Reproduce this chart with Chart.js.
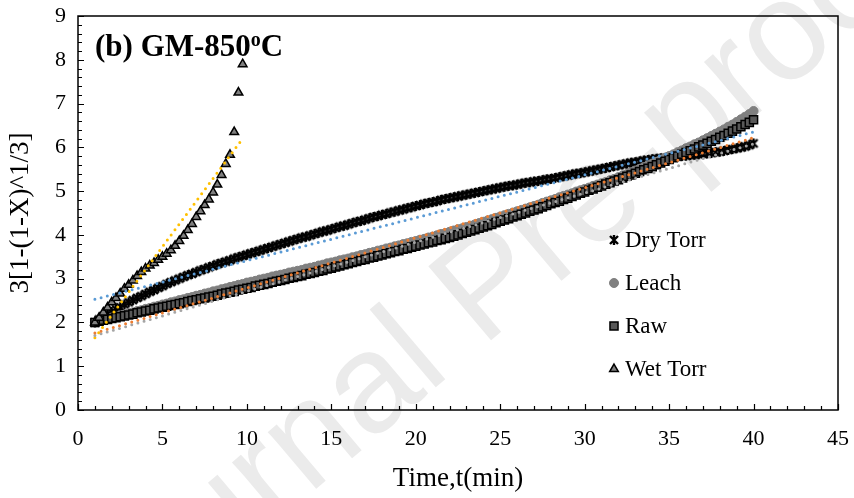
<!DOCTYPE html>
<html>
<head>
<meta charset="utf-8">
<title>GM-850 shrinking core</title>
<script src="https://cdn.jsdelivr.net/npm/chart.js@4.4.0/dist/chart.umd.min.js"></script>
<style>
  html, body { margin: 0; padding: 0; background: #fff; }
  #wrap { width: 854px; height: 498px; }
</style>
</head>
<body>
<div id="wrap"><canvas id="chart"></canvas></div>
<script>
// Sampling times (min), one reading every 15 s
const timeMin = [
  1, 1.25, 1.5, 1.75, 2, 2.25, 2.5, 2.75, 3, 3.25, 3.5, 3.75,
  4, 4.25, 4.5, 4.75, 5, 5.25, 5.5, 5.75, 6, 6.25, 6.5, 6.75,
  7, 7.25, 7.5, 7.75, 8, 8.25, 8.5, 8.75, 9, 9.25, 9.5, 9.75,
  10, 10.25, 10.5, 10.75, 11, 11.25, 11.5, 11.75, 12, 12.25, 12.5, 12.75,
  13, 13.25, 13.5, 13.75, 14, 14.25, 14.5, 14.75, 15, 15.25, 15.5, 15.75,
  16, 16.25, 16.5, 16.75, 17, 17.25, 17.5, 17.75, 18, 18.25, 18.5, 18.75,
  19, 19.25, 19.5, 19.75, 20, 20.25, 20.5, 20.75, 21, 21.25, 21.5, 21.75,
  22, 22.25, 22.5, 22.75, 23, 23.25, 23.5, 23.75, 24, 24.25, 24.5, 24.75,
  25, 25.25, 25.5, 25.75, 26, 26.25, 26.5, 26.75, 27, 27.25, 27.5, 27.75,
  28, 28.25, 28.5, 28.75, 29, 29.25, 29.5, 29.75, 30, 30.25, 30.5, 30.75,
  31, 31.25, 31.5, 31.75, 32, 32.25, 32.5, 32.75, 33, 33.25, 33.5, 33.75,
  34, 34.25, 34.5, 34.75, 35, 35.25, 35.5, 35.75, 36, 36.25, 36.5, 36.75,
  37, 37.25, 37.5, 37.75, 38, 38.25, 38.5, 38.75, 39, 39.25, 39.5, 39.75,
  40
];

// 3[1-(1-X)^1/3] for each sample
const dryTorr = [
  2.00, 2.07, 2.13, 2.19, 2.24, 2.30, 2.35, 2.41, 2.46, 2.51, 2.56, 2.60,
  2.65, 2.70, 2.74, 2.79, 2.83, 2.88, 2.92, 2.96, 3.00, 3.04, 3.08, 3.11,
  3.15, 3.19, 3.22, 3.26, 3.29, 3.33, 3.36, 3.39, 3.42, 3.46, 3.49, 3.52,
  3.55, 3.58, 3.61, 3.64, 3.67, 3.70, 3.73, 3.76, 3.79, 3.82, 3.85, 3.88,
  3.91, 3.94, 3.96, 3.99, 4.02, 4.05, 4.08, 4.10, 4.13, 4.16, 4.19, 4.21,
  4.24, 4.27, 4.30, 4.32, 4.35, 4.38, 4.41, 4.43, 4.46, 4.48, 4.51, 4.53,
  4.56, 4.58, 4.61, 4.63, 4.66, 4.68, 4.71, 4.73, 4.75, 4.77, 4.80, 4.82,
  4.84, 4.86, 4.88, 4.90, 4.92, 4.94, 4.96, 4.98, 5.00, 5.02, 5.04, 5.06,
  5.08, 5.10, 5.12, 5.13, 5.15, 5.17, 5.19, 5.20, 5.22, 5.23, 5.25, 5.27,
  5.28, 5.30, 5.32, 5.34, 5.36, 5.38, 5.40, 5.41, 5.43, 5.45, 5.47, 5.49,
  5.51, 5.53, 5.55, 5.57, 5.59, 5.61, 5.63, 5.65, 5.66, 5.68, 5.70, 5.71,
  5.73, 5.74, 5.75, 5.76, 5.77, 5.78, 5.79, 5.80, 5.81, 5.82, 5.83, 5.84,
  5.85, 5.86, 5.87, 5.89, 5.90, 5.92, 5.94, 5.96, 5.98, 6.00, 6.02, 6.05,
  6.09
];

const leach = [
  2.00, 2.03, 2.06, 2.08, 2.11, 2.13, 2.16, 2.18, 2.21, 2.23, 2.26, 2.28,
  2.31, 2.33, 2.36, 2.38, 2.41, 2.43, 2.46, 2.48, 2.51, 2.53, 2.56, 2.58,
  2.61, 2.63, 2.66, 2.68, 2.71, 2.73, 2.76, 2.78, 2.81, 2.83, 2.86, 2.88,
  2.91, 2.93, 2.95, 2.98, 3.00, 3.02, 3.05, 3.07, 3.09, 3.11, 3.14, 3.16,
  3.18, 3.20, 3.23, 3.25, 3.27, 3.30, 3.32, 3.35, 3.37, 3.39, 3.42, 3.44,
  3.46, 3.49, 3.51, 3.54, 3.56, 3.59, 3.61, 3.64, 3.66, 3.69, 3.71, 3.74,
  3.76, 3.79, 3.81, 3.84, 3.86, 3.89, 3.91, 3.94, 3.96, 3.99, 4.02, 4.04,
  4.07, 4.10, 4.13, 4.15, 4.18, 4.21, 4.24, 4.27, 4.30, 4.33, 4.36, 4.39,
  4.42, 4.45, 4.48, 4.51, 4.54, 4.57, 4.60, 4.63, 4.66, 4.69, 4.73, 4.76,
  4.79, 4.82, 4.86, 4.89, 4.92, 4.95, 4.99, 5.02, 5.05, 5.08, 5.12, 5.15,
  5.18, 5.21, 5.25, 5.28, 5.32, 5.36, 5.39, 5.43, 5.47, 5.51, 5.55, 5.59,
  5.63, 5.67, 5.72, 5.76, 5.80, 5.84, 5.89, 5.93, 5.98, 6.02, 6.07, 6.11,
  6.16, 6.21, 6.26, 6.31, 6.36, 6.41, 6.47, 6.52, 6.58, 6.64, 6.70, 6.76,
  6.83
];

const raw = [
  2.00, 2.03, 2.05, 2.07, 2.09, 2.11, 2.13, 2.15, 2.17, 2.19, 2.22, 2.24,
  2.26, 2.28, 2.31, 2.33, 2.35, 2.37, 2.39, 2.41, 2.43, 2.45, 2.48, 2.50,
  2.52, 2.54, 2.56, 2.58, 2.60, 2.62, 2.65, 2.67, 2.69, 2.71, 2.74, 2.76,
  2.78, 2.80, 2.83, 2.85, 2.87, 2.89, 2.92, 2.94, 2.96, 2.98, 3.01, 3.03,
  3.05, 3.07, 3.10, 3.12, 3.14, 3.17, 3.19, 3.22, 3.24, 3.27, 3.29, 3.32,
  3.34, 3.37, 3.39, 3.42, 3.44, 3.47, 3.49, 3.52, 3.54, 3.57, 3.59, 3.62,
  3.64, 3.67, 3.69, 3.72, 3.74, 3.77, 3.79, 3.82, 3.84, 3.87, 3.89, 3.92,
  3.94, 3.97, 4.00, 4.03, 4.06, 4.09, 4.12, 4.15, 4.18, 4.21, 4.24, 4.28,
  4.31, 4.34, 4.37, 4.41, 4.44, 4.47, 4.50, 4.54, 4.57, 4.60, 4.64, 4.67,
  4.71, 4.74, 4.77, 4.81, 4.84, 4.88, 4.91, 4.95, 4.98, 5.02, 5.05, 5.09,
  5.12, 5.16, 5.19, 5.23, 5.26, 5.30, 5.34, 5.37, 5.41, 5.45, 5.49, 5.52,
  5.56, 5.60, 5.64, 5.68, 5.72, 5.76, 5.80, 5.84, 5.88, 5.92, 5.96, 6.01,
  6.05, 6.09, 6.14, 6.18, 6.23, 6.27, 6.32, 6.37, 6.42, 6.47, 6.52, 6.57,
  6.63
];

// Wet Torr run stops after 9.75 min
const wetTorr = [
  2.00, 2.11, 2.23, 2.34, 2.46, 2.56, 2.66, 2.77, 2.86, 2.96, 3.06, 3.15,
  3.23, 3.30, 3.36, 3.43, 3.50, 3.57, 3.65, 3.75, 3.86, 3.98, 4.11, 4.25,
  4.41, 4.54, 4.68, 4.81, 4.97, 5.15, 5.37, 5.62, 5.83, 6.35, 7.25, 7.90
];

// Linear trendlines: value at the first and at the last sample of each run
const seriesNames = ['Dry Torr', 'Leach', 'Raw', 'Wet Torr'];
const trendStart = [2.53, 1.76, 1.70, 1.65];
const trendEnd = [6.35, 6.22, 6.08, 6.20];
const trendColors = ['#5B9BD5', '#ED7D31', '#A5A5A5', '#FFC000'];

const SERIF = '"Liberation Serif", "Times New Roman", serif';

function toPoints(xs, ys) {
  return ys.map((y, i) => ({ x: xs[i], y: y }));
}

// "x" marker with a vertical stroke
function makeStarMark() {
  const c = document.createElement('canvas');
  c.width = 12; c.height = 12;
  const g = c.getContext('2d');
  g.strokeStyle = '#000';
  g.lineWidth = 2.4;
  g.beginPath();
  g.moveTo(2, 2); g.lineTo(10, 10);
  g.moveTo(10, 2); g.lineTo(2, 10);
  g.moveTo(6, 1); g.lineTo(6, 11);
  g.stroke();
  return c;
}
const starMark = makeStarMark();

const wetTime = timeMin.slice(0, wetTorr.length);
const runTimes = [timeMin, timeMin, timeMin, wetTime];

const markerSets = [
  { label: seriesNames[0], data: toPoints(timeMin, dryTorr), pointStyle: starMark,
    pointRadius: 5, backgroundColor: '#000', borderColor: '#000', borderWidth: 1, order: 5 },
  { label: seriesNames[1], data: toPoints(timeMin, leach), pointStyle: 'circle',
    pointRadius: 4.5, backgroundColor: '#808080', borderColor: '#808080', borderWidth: 1, order: 4 },
  { label: seriesNames[2], data: toPoints(timeMin, raw), pointStyle: 'rect',
    pointRadius: 5.7, backgroundColor: '#595959', borderColor: '#000', borderWidth: 1.5, order: 3 },
  { label: seriesNames[3], data: toPoints(wetTime, wetTorr), pointStyle: 'triangle',
    pointRadius: 5, backgroundColor: '#7f7f7f', borderColor: '#000', borderWidth: 1.5, order: 2 }
];

const trendSets = seriesNames.map((name, i) => {
  const ts = runTimes[i];
  return {
    label: name + ' trend',
    data: [{ x: ts[0], y: trendStart[i] }, { x: ts[ts.length - 1], y: trendEnd[i] }],
    showLine: true,
    pointRadius: 0,
    borderColor: trendColors[i],
    borderWidth: 3,
    borderDash: [0, 6.4],
    borderCapStyle: 'round',
    fill: false,
    order: 1
  };
});

// page furniture: background, watermark, box, inward ticks, titles, legend
const decorPlugin = {
  id: 'decor',
  beforeDraw(chart) {
    const ctx = chart.ctx;
    ctx.save();
    ctx.fillStyle = '#fff';
    ctx.fillRect(0, 0, chart.width, chart.height);
    ctx.translate(515, 320);
    ctx.rotate(-40.3 * Math.PI / 180);
    ctx.font = '141px "Liberation Sans", Arial, sans-serif';
    ctx.fillStyle = '#ebebeb';
    ctx.textAlign = 'center';
    ctx.textBaseline = 'alphabetic';
    ctx.fillText('Journal Pre-proof', 0, 0);
    ctx.restore();
  },
  afterDraw(chart) {
    const ctx = chart.ctx;
    const a = chart.chartArea;
    const xs = chart.scales.x, ys = chart.scales.y;
    ctx.save();
    ctx.strokeStyle = '#000';
    ctx.lineWidth = 1.5;
    ctx.strokeRect(a.left, a.top, a.right - a.left, a.bottom - a.top);

    ctx.lineWidth = 1.2;
    ctx.beginPath();
    for (let v = 0; v <= 45; v += 1) {
      const px = Math.round(xs.getPixelForValue(v)) + 0.5;
      const len = v % 5 === 0 ? 6 : 4;
      ctx.moveTo(px, a.bottom);
      ctx.lineTo(px, a.bottom - len);
    }
    for (let k = 0; k <= 45; k++) {
      const v = k * 0.2;
      const py = Math.round(ys.getPixelForValue(v)) + 0.5;
      const len = k % 5 === 0 ? 6 : 4;
      ctx.moveTo(a.left, py);
      ctx.lineTo(a.left + len, py);
    }
    ctx.stroke();

    // axis titles
    ctx.fillStyle = '#000';
    ctx.font = '27px ' + SERIF;
    ctx.textAlign = 'center';
    ctx.textBaseline = 'middle';
    ctx.fillText('Time,t(min)', (a.left + a.right) / 2, 479);
    ctx.save();
    ctx.translate(21, (a.top + a.bottom) / 2);
    ctx.rotate(-Math.PI / 2);
    ctx.fillText('3[1-(1-X)^1/3]', 0, 0);
    ctx.restore();

    // panel title with superscript degree
    ctx.textAlign = 'left';
    ctx.textBaseline = 'alphabetic';
    ctx.font = 'bold 31px ' + SERIF;
    let tx = 95;
    const base = 56;
    ctx.fillText('(b) GM-850', tx, base);
    tx += ctx.measureText('(b) GM-850').width;
    ctx.font = 'bold 20px ' + SERIF;
    ctx.fillText('o', tx, base - 10);
    tx += ctx.measureText('o').width;
    ctx.font = 'bold 31px ' + SERIF;
    ctx.fillText('C', tx, base);

    // legend
    const rows = [240, 283, 326, 369];
    ctx.font = '23px ' + SERIF;
    ctx.textBaseline = 'middle';
    markerSets.forEach((ds, i) => {
      const cy = rows[i];
      ctx.save();
      ctx.fillStyle = ds.backgroundColor;
      ctx.strokeStyle = ds.borderColor;
      ctx.lineWidth = ds.borderWidth;
      Chart.helpers.drawPoint(ctx, { pointStyle: ds.pointStyle, radius: ds.pointRadius, rotation: 0, borderWidth: ds.borderWidth }, 614, cy);
      ctx.restore();
      ctx.fillStyle = '#000';
      ctx.fillText(ds.label, 625, cy + 1);
    });
    ctx.restore();
  }
};

new Chart(document.getElementById('chart'), {
  type: 'scatter',
  data: { datasets: [...trendSets, ...markerSets] },
  options: {
    responsive: true,
    maintainAspectRatio: false,
    animation: false,
    events: [],
    layout: { padding: { top: 16, right: 16, left: 0, bottom: 0 } },
    plugins: {
      legend: { display: false },
      tooltip: { enabled: false }
    },
    scales: {
      x: {
        type: 'linear',
        min: 0,
        max: 45,
        afterFit(scale) {
          scale.height = 88;
          scale.paddingLeft = 0;
          scale.paddingRight = 0;
        },
        grid: { display: false, drawTicks: false },
        border: { display: false },
        ticks: {
          stepSize: 5,
          padding: 16,
          color: '#000',
          font: { family: SERIF, size: 22 }
        }
      },
      y: {
        type: 'linear',
        min: 0,
        max: 9,
        afterFit(scale) {
          scale.width = 78;
          scale.paddingTop = 0;
          scale.paddingBottom = 0;
        },
        grid: { display: false, drawTicks: false },
        border: { display: false },
        ticks: {
          stepSize: 1,
          padding: 12,
          color: '#000',
          font: { family: SERIF, size: 22 }
        }
      }
    }
  },
  plugins: [decorPlugin]
});
</script>
</body>
</html>
